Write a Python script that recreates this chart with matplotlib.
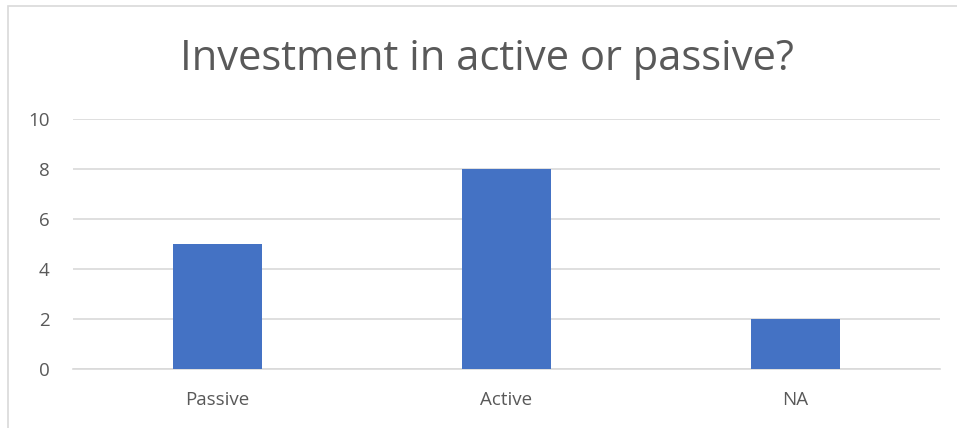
import matplotlib.pyplot as plt
from matplotlib.patches import Rectangle

categories = ["Passive", "Active", "NA"]
counts = [5, 8, 2]
y_ticks = [0, 2, 4, 6, 8, 10]

plt.rcParams['font.family'] = ['Open Sans', 'DejaVu Sans']

fig = plt.figure(figsize=(9.57, 4.28), dpi=100)
ax = fig.add_axes([0.0763, 0.138, 0.906, 0.584])

# light outer frame of the chart
fig.patches.append(Rectangle((8 / 957, -0.1), 1.2, 1.1 - 6 / 428, transform=fig.transFigure,
                             fill=False, edgecolor='#D9D9D9', linewidth=1.2))

x = range(len(categories))
ax.bar(x, counts, width=0.31, color='#4472C4', zorder=3)

ax.set_xlim(-0.5, len(categories) - 0.5)
ax.set_ylim(0, 10)
ax.set_yticks(y_ticks)
ax.set_xticks(list(x))
ax.set_xticklabels(categories)
ax.grid(axis='y', color='#D9D9D9', linewidth=1.2, zorder=0)
for side in ['top', 'right', 'left']:
    ax.spines[side].set_visible(False)
ax.spines['bottom'].set_color('#D9D9D9')
ax.spines['bottom'].set_linewidth(1.2)
ax.tick_params(axis='both', length=0, labelsize=13.5, colors='#595959')
ax.tick_params(axis='x', pad=16)
ax.tick_params(axis='y', pad=17)

fig.text(0.509, 0.863, "Investment in active or passive?", ha='center', va='center',
         fontsize=30, color='#595959')

fig.savefig("out.png", dpi=100)
